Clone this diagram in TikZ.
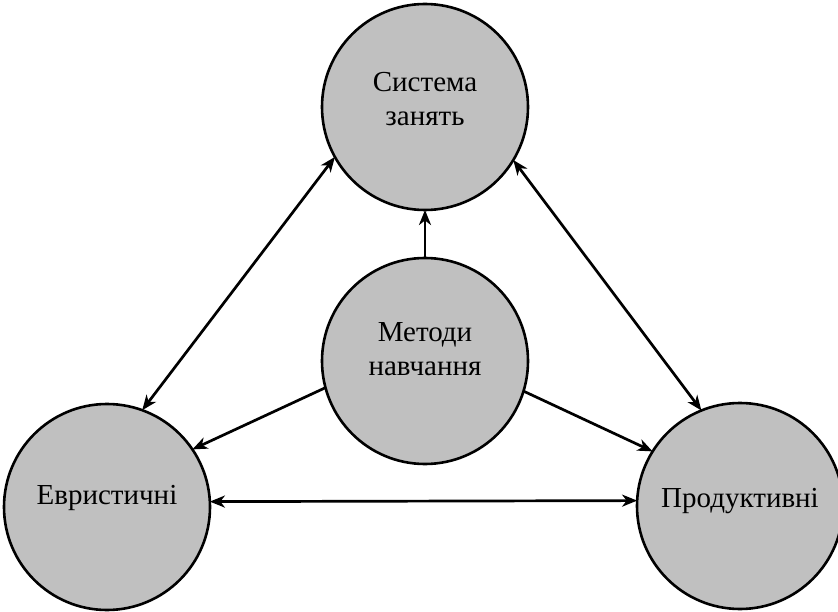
\documentclass[tikz,border=0pt]{standalone}
\usepackage{fontspec}
\setmainfont{Liberation Serif}
\usetikzlibrary{arrows.meta}
\definecolor{circfill}{HTML}{C0C0C0}
\newcommand\liftedtext[2]{\raisebox{#1}[\height][\depth]{\begin{tabular}{@{}c@{}}#2\end{tabular}}}
\tikzset{
  bubble/.style={circle, draw=black, line width=2.6pt, fill=circfill, minimum size=206pt, inner sep=0pt, outer sep=0pt, align=center, font=\fontsize{29}{34}\selectfont},
  conn/.style={line width=2.7pt, -{Stealth[length=15pt,width=12pt,inset=4.5pt]}},
  dconn/.style={line width=2.7pt, {Stealth[length=15pt,width=12pt,inset=4.5pt]}-{Stealth[length=15pt,width=12pt,inset=4.5pt]}}
}
\begin{document}
\begin{tikzpicture}[x=1pt,y=-1pt]
\useasboundingbox (0,0) rectangle (838,612);
\node[bubble] (T) at (425,107) {\liftedtext{5pt}{Система\\занять}};
\node[bubble] (M) at (425,361) {\liftedtext{9pt}{Методи\\навчання}};
\node[bubble] (L) at (107,507) {\liftedtext{9pt}{Евристичні}};
\node[bubble] (R) at (740,506) {\liftedtext{5pt}{Продуктивні}};
\draw[dconn] (L.70) -- (T.209);
\draw[dconn] (R.112) -- (T.-31);
\draw[dconn] (L.3) -- (R.177);
\draw[conn] (M.north) -- (T.south);
\draw[conn] (M.195) -- (L.34);
\draw[conn] (M.-17) -- (R.148);
\end{tikzpicture}
\end{document}
